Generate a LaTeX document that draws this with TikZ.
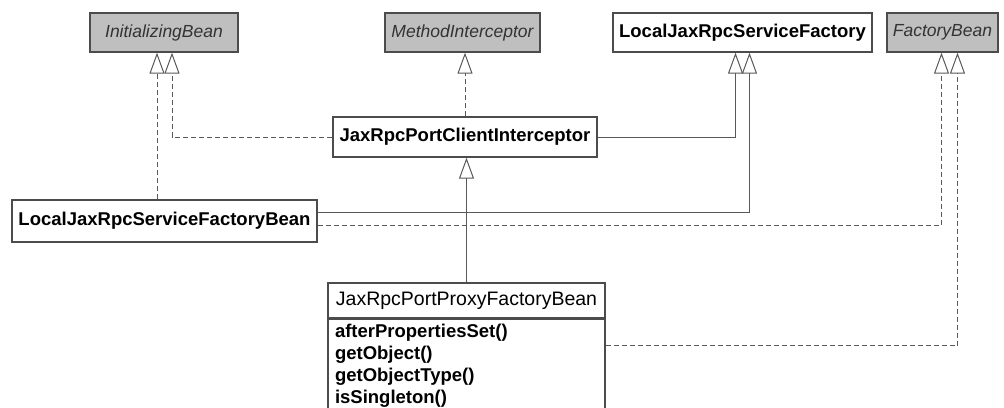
\documentclass[tikz,border=0pt]{standalone}
\usepackage{fontspec}
\setmainfont{Liberation Sans}
\usetikzlibrary{arrows.meta,positioning,calc}

\begin{document}
\begin{tikzpicture}[x=1pt,y=-1pt,
  box/.style={draw=black!70, line width=1.3pt, fill=white, inner sep=0pt,
    minimum height=39pt, font=\fontsize{18.5}{20}\selectfont\bfseries},
  iface/.style={box, fill=black!25, text=black!80,
    font=\fontsize{17.5}{20}\selectfont\itshape},
  realize/.style={draw=black!65, line width=1pt, dash pattern=on 5pt off 3pt,
    -{Triangle[open,length=21pt,width=15pt]}},
  extend/.style={draw=black!65, line width=1pt,
    -{Triangle[open,length=21pt,width=15pt]}}]
  \useasboundingbox (0,0) rectangle (1004,407);
  \clip (0,0) rectangle (1004,407);
  % top row
  \node[iface, minimum width=148pt] (ib) at (164,32.5) {InitializingBean};
  \node[iface, minimum width=155pt] (mi) at (462.5,32.5) {MethodInterceptor};
  \node[box, minimum width=259pt] (lf) at (742.5,32.5) {LocalJaxRpcServiceFactory};
  \node[iface, minimum width=111pt] (fb) at (942.5,32.5) {FactoryBean};
  % classes
  \node[box, minimum width=264pt, minimum height=40pt] (ci) at (465,137) {JaxRpcPortClientInterceptor};
  \node[box, minimum width=305pt, minimum height=42pt] (lfb) at (164.5,221) {LocalJaxRpcServiceFactoryBean};
  \node[box, minimum width=277pt, minimum height=35pt, font=\fontsize{19.5}{20}\selectfont] (pfb) at (466.5,300.5) {JaxRpcPortProxyFactoryBean};
  \node[box, anchor=north, align=left, text width=263pt, inner xsep=7pt, inner ysep=5pt,
    font=\fontsize{18.5}{22}\selectfont\bfseries] (pfbm) at (pfb.south)
    {afterPropertiesSet()\\getObject()\\getObjectType()\\isSingleton()};
  % arrow ends
  \coordinate (ib1) at ([xshift=-7pt]ib.south);
  \coordinate (ib2) at ([xshift=8pt]ib.south);
  \coordinate (lf1) at ([xshift=-7pt]lf.south);
  \coordinate (lf2) at ([xshift=7pt]lf.south);
  \coordinate (fb1) at ([xshift=-1pt]fb.south);
  \coordinate (fb2) at ([xshift=15pt]fb.south);
  % connectors
  \draw[realize] (lfb.north -| ib1) -- (ib1);
  \draw[realize] (ci.west) -| (ib2);
  \draw[realize] (ci.north) -- (ci.north |- mi.south);
  \draw[extend] (ci.east) -| (lf1);
  \draw[extend] ([yshift=9pt]lfb.east) -| (lf2);
  \draw[realize] ([yshift=-4pt]lfb.east) -| (fb1);
  \draw[realize] ([yshift=-27pt]pfbm.north east) -| (fb2);
  \draw[extend] (pfb.north) -- (pfb.north |- ci.south);
\end{tikzpicture}
\end{document}
